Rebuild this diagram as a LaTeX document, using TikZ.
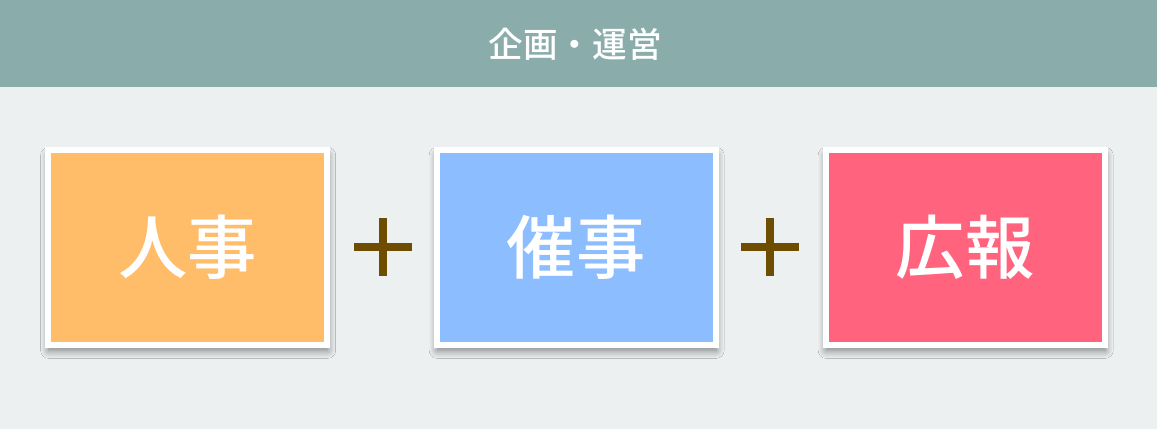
\documentclass[tikz,border=0pt]{standalone}
\usepackage{fontspec}
\newfontfamily\cjk{Noto Sans CJK JP}[UprightFont={* Medium},BoldFont={* Bold}]
\usetikzlibrary{calc,shadows.blur}

\definecolor{headteal}{HTML}{8AADAC}
\definecolor{backgrey}{HTML}{ECF0F1}
\definecolor{jinorange}{HTML}{FFBC69}
\definecolor{saiblue}{HTML}{8BBDFF}
\definecolor{kohored}{HTML}{FF637D}
\definecolor{plusbrown}{HTML}{6E4D00}
\definecolor{shadowolive}{HTML}{857A40}

\tikzset{
  card/.style={draw=white,line width=4.5pt,inner sep=0pt,
    minimum width=209.25pt,minimum height=146.25pt,
    text=white,font=\cjk\fontsize{52}{52}\selectfont,
    blur shadow={shadow xshift=0.5pt,shadow yshift=-4pt,
      shadow blur radius=6pt,shadow opacity=50,shadow blur steps=12,
      every shadow/.style={fill=shadowolive}}},
  plusbar/.style={draw=plusbrown,line width=6pt}
}

\begin{document}
\begin{tikzpicture}[x=0.75pt,y=-0.75pt]
%background
\fill[backgrey] (0,0) rectangle (1157,429);
\useasboundingbox (0,0) rectangle (1157,429);

%header
\fill[headteal] (0,0) rectangle (1157,87);
\node[text=white,font=\cjk\fontsize{26}{26}\selectfont] (title) at (575,44) {企画・運営};

%cards
\node[card,fill=jinorange] (jinji) at (187.5,247.5) {人事};
\node[card,fill=saiblue] (saiji) at (576,247.5) {催事};
\node[card,fill=kohored] (koho) at (965,247.5) {広報};

%plus signs
\coordinate (plusa) at (383,247);
\coordinate (plusb) at (770,247);
\foreach \p in {plusa,plusb}{
  \draw[plusbar] ($(\p)+(-29,0)$) -- ($(\p)+(29,0)$);
  \draw[plusbar] ($(\p)+(0,-29)$) -- ($(\p)+(0,29)$);
}
\end{tikzpicture}
\end{document}
